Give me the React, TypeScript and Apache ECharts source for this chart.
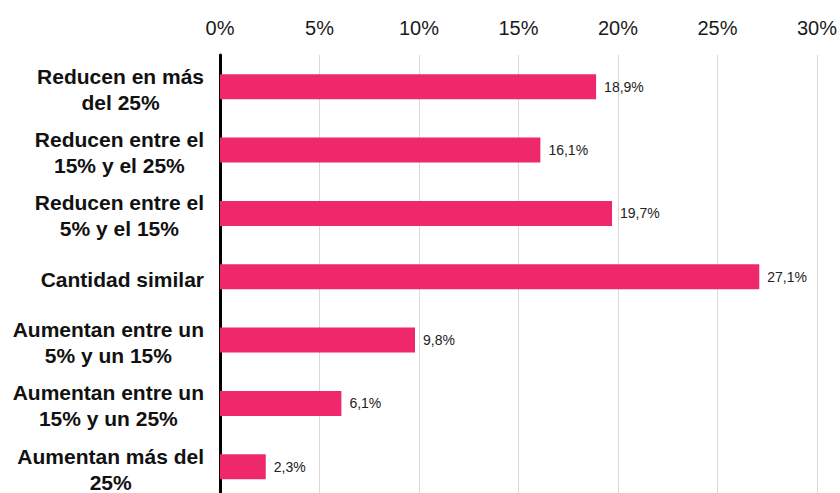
import React, { useEffect, useRef } from "react";
import * as echarts from "echarts";

const categories = [
  "Reducen en más\ndel 25%",
  "Reducen entre el\n15% y el 25%",
  "Reducen entre el\n5% y el 15%",
  "Cantidad similar",
  "Aumentan entre un\n5% y un 15%",
  "Aumentan entre un\n15% y un 25%",
  "Aumentan más del\n25%",
];
const values = [18.9, 16.1, 19.7, 27.1, 9.8, 6.1, 2.3];
const axisMin = 0;
const axisMax = 30;
const axisStep = 5;

export default function App() {
  const ref = useRef<HTMLDivElement>(null);
  useEffect(() => {
    document.body.style.margin = "0";
    if (!ref.current) return;
    const chart = echarts.init(ref.current, null, { renderer: "svg" });
    chart.setOption({
      animation: false,
      grid: { left: 220, right: 23, top: 55, bottom: 1.5, containLabel: false },
      xAxis: {
        type: "value",
        position: "top",
        min: axisMin,
        max: axisMax,
        interval: axisStep,
        axisLine: { show: false },
        axisTick: { show: false },
        axisLabel: {
          formatter: (v: number) => `${v}%`,
          fontSize: 20,
          color: "#1a1a1a",
          fontFamily: "Liberation Sans, Arial, sans-serif",
          margin: 17,
        },
        splitLine: { show: true, lineStyle: { color: "#d9d9d9", width: 1 } },
      },
      yAxis: {
        type: "category",
        data: categories,
        inverse: true,
        axisLine: { show: true, lineStyle: { color: "#000", width: 3 } },
        axisTick: { show: false },
        axisLabel: {
          margin: 16,
          padding: [5, 0, 0, 0],
          formatter: (v: string) =>
            v
              .split("\n")
              .map((l) => `{c|${l}}`)
              .join("\n"),
          rich: {
            c: {
              align: "center",
              fontSize: 21,
              fontWeight: "bold",
              color: "#111",
              lineHeight: 26,
              fontFamily: "Liberation Sans, Arial, sans-serif",
            },
          },
        },
      },
      series: [
        {
          type: "bar",
          data: values,
          barWidth: 25,
          itemStyle: { color: "#EE286B" },
          label: {
            show: true,
            position: "right",
            distance: 8,
            fontSize: 14,
            color: "#222",
            fontFamily: "Liberation Sans, Arial, sans-serif",
            formatter: (p: any) => `${String(p.value).replace(".", ",")}%`,
          },
        },
      ],
    });
    return () => chart.dispose();
  }, []);
  return (
    <div style={{ width: 840, height: 493, overflow: "hidden" }}>
      <div ref={ref} style={{ width: 840, height: 500 }} />
    </div>
  );
}
